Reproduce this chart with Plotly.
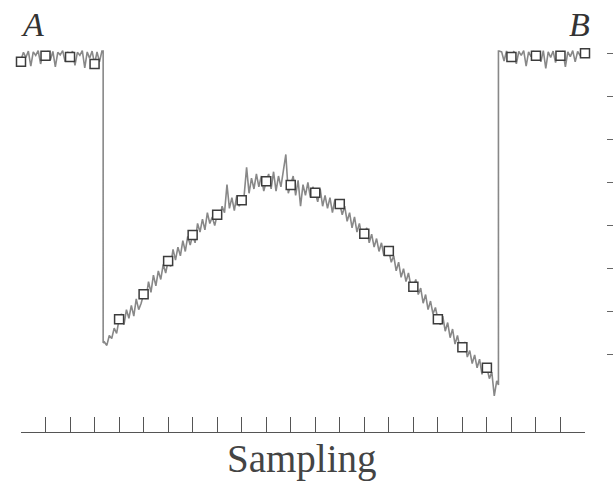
import numpy as np
import plotly.graph_objects as go

# ---- data ----
# sampled points (square markers), one per tick
sample_x = list(range(24))
sample_y = [7.80, 7.94, 7.91, 7.75, 1.83, 2.41, 3.18, 3.78, 4.25, 4.59, 5.03, 4.94,
            4.76, 4.50, 3.81, 3.41, 2.58, 1.83, 1.18, 0.70, 7.91, 7.94, 7.94, 8.00]

# continuous noisy signal, segment A (flat, x = 0.0 .. 3.3 step 0.1)
flat_left_y = [7.85, 8.02, 7.90, 8.05, 7.70, 8.03, 7.95, 8.06, 7.75, 8.02,
               7.94, 8.05, 7.85, 8.04, 7.68, 8.02, 7.96, 8.06, 7.80, 8.03,
               7.91, 8.05, 7.72, 8.02, 7.95, 8.06, 7.66, 8.03, 7.88, 8.05,
               7.75, 8.03, 7.80, 8.05]
drop_x = [3.35, 3.35]
drop_y = [8.05, 1.28]

# middle segment (x = 3.4 .. 19.4 step 0.1)
middle_y = [1.30, 1.22, 1.45, 1.38, 1.62, 1.50,
            1.83, 1.95, 1.70, 2.05, 1.85, 2.15, 1.90, 2.30, 2.05, 2.20,
            2.41, 2.30, 2.70, 2.45, 2.85, 2.60, 2.95, 2.75, 3.10, 2.90,
            3.18, 3.05, 3.45, 3.20, 3.50, 3.30, 3.65, 3.40, 3.75, 3.55,
            3.78, 3.60, 4.05, 3.85, 4.15, 3.90, 4.30, 4.05, 4.20, 4.00,
            4.25, 4.15, 4.45, 4.30, 4.95, 4.40, 4.65, 4.35, 4.70, 4.45,
            4.59, 4.70, 5.35, 4.75, 5.10, 4.85, 5.20, 4.90, 5.15, 4.80,
            5.03, 5.20, 4.85, 5.25, 4.80, 5.15, 4.90, 5.30, 5.65, 4.75,
            4.94, 5.15, 4.70, 5.05, 4.45, 4.95, 4.70, 5.00, 4.65, 4.90,
            4.76, 4.55, 4.85, 4.45, 4.70, 4.40, 4.65, 4.30, 4.60, 4.45,
            4.50, 4.25, 4.45, 4.10, 4.30, 3.95, 4.20, 3.85, 4.05, 3.75,
            3.81, 3.95, 3.60, 3.80, 3.50, 3.70, 3.40, 3.60, 3.30, 3.50,
            3.41, 3.15, 3.30, 2.95, 3.15, 2.80, 3.00, 2.70, 2.90, 2.60,
            2.58, 2.75, 2.40, 2.55, 2.20, 2.40, 2.05, 2.25, 1.95, 2.10,
            1.83, 1.70, 1.90, 1.55, 1.75, 1.40, 1.60, 1.25, 1.45, 1.15,
            1.18, 1.30, 0.95, 1.10, 0.80, 1.00, 0.70, 0.90, 0.55, 0.80,
            0.70, 0.45, 0.60, 0.05, 0.40]
rise_x = [19.47, 19.47]
rise_y = [0.30, 8.05]

# right flat segment (x = 19.5 .. 23.0 step 0.1)
flat_right_y = [8.05, 8.03, 7.82, 8.05, 7.90, 7.91, 8.05, 7.75, 8.04, 7.95,
                8.06, 7.70, 8.03, 7.92, 8.05, 7.94, 8.04, 7.80, 8.06, 7.65,
                8.03, 7.90, 8.05, 7.78, 8.04, 7.94, 8.05, 7.68, 8.03, 7.92,
                8.06, 7.80, 8.04, 7.95, 8.05, 8.00]

x_ticks = list(range(24))
y_ticks = [1, 2, 3, 4, 5, 6, 7, 8]
x_title = "Sampling"
corner_labels = ["A", "B"]

# ---- build the signal ----
fl_x = np.round(0.0 + 0.1 * np.arange(len(flat_left_y)), 2)
mid_x = np.round(3.4 + 0.1 * np.arange(len(middle_y)), 2)
fr_x = np.round(19.5 + 0.1 * np.arange(len(flat_right_y)), 2)
sig_x = list(fl_x) + drop_x + list(mid_x) + rise_x + list(fr_x)
sig_y = flat_left_y + drop_y + middle_y + rise_y + flat_right_y

W, H = 613, 482
fig = go.Figure()
fig.add_trace(go.Scatter(x=sig_x, y=sig_y, mode="lines",
                         line=dict(color="#888888", width=1.6),
                         hoverinfo="skip", cliponaxis=False))
fig.add_trace(go.Scatter(x=sample_x, y=sample_y, mode="markers",
                         marker=dict(symbol="square", size=9, color="white",
                                     line=dict(color="#3c3c3c", width=1.5)),
                         cliponaxis=False))

fig.update_layout(
    width=W, height=H,
    margin=dict(l=0, r=0, t=0, b=0),
    paper_bgcolor="white", plot_bgcolor="white",
    showlegend=False,
    xaxis=dict(domain=[21 / W, 585 / W], range=[0, 23],
               tickvals=x_ticks, showticklabels=False,
               ticks="inside", ticklen=15, tickwidth=1.4, tickcolor="#555555",
               showline=True, linecolor="#555555", linewidth=1.4,
               showgrid=False, zeroline=False, automargin=False),
    yaxis=dict(domain=[(H - 432) / H, (H - 30) / H],
               range=[(398 - 432) / 43.1, (398 - 30) / 43.1],
               side="right", anchor="free", position=606 / W,
               tickvals=y_ticks, showticklabels=False,
               ticks="outside", ticklen=6, tickwidth=1.4, tickcolor="#666666",
               showline=False, showgrid=False, zeroline=False, automargin=False),
    annotations=[
        dict(text=x_title, xref="paper", yref="paper", x=302 / W, y=(H - 459) / H,
             xanchor="center", yanchor="middle", showarrow=False,
             font=dict(family="Liberation Serif", size=39, color="#444444")),
        dict(text="<i>%s</i>" % corner_labels[0], xref="paper", yref="paper",
             x=32 / W, y=(H - 24) / H, xanchor="center", yanchor="middle",
             showarrow=False,
             font=dict(family="Liberation Serif", size=34, color="#333333")),
        dict(text="<i>%s</i>" % corner_labels[1], xref="paper", yref="paper",
             x=579 / W, y=(H - 24) / H, xanchor="center", yanchor="middle",
             showarrow=False,
             font=dict(family="Liberation Serif", size=34, color="#333333")),
    ],
)

fig.write_html("out.html", config={"displayModeBar": False},
               post_script="document.body.style.margin='0';document.body.style.padding='0';document.body.style.overflow='hidden';")
